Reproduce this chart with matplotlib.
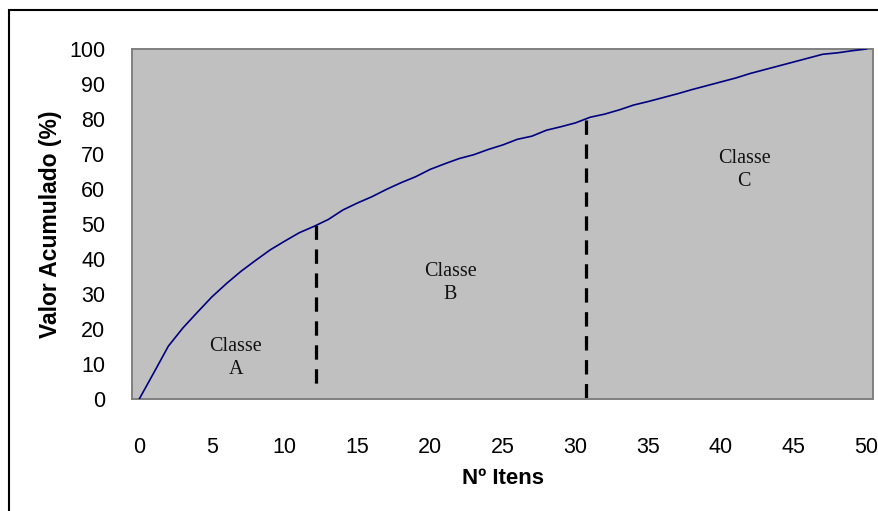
import matplotlib
matplotlib.use("Agg")
import matplotlib.pyplot as plt
from matplotlib.patches import Rectangle

# Data
itens = list(range(0, 51))
valor_acumulado = [0, 7.5, 15.1, 20.3, 24.8, 29.2, 33.0, 36.5, 39.6, 42.6, 45.1,
                   47.5, 49.3, 51.3, 54.0, 56.0, 57.8, 59.9, 61.8, 63.5, 65.6,
                   67.2, 68.7, 69.8, 71.3, 72.6, 74.2, 75.1, 76.8, 77.8, 78.9,
                   80.5, 81.4, 82.6, 84.0, 85.0, 86.1, 87.2, 88.4, 89.5, 90.6,
                   91.7, 93.0, 94.1, 95.2, 96.3, 97.4, 98.5, 98.9, 99.5, 100.0]
limites = [12.15, 30.75]
limites_base = [2.0, -0.4]
limites_topo = [49.8, 79.8]
classes = ["Classe\nA", "Classe\nB", "Classe\nC"]
classes_pos = [(6.65, 11.7), (21.4, 33.1), (41.6, 65.4)]
xticks = list(range(0, 51, 5))
yticks = list(range(0, 101, 10))

fig = plt.figure(figsize=(8.79, 5.11), dpi=100)
ax = fig.add_axes([131.7/879, 1-399/511, (873-131.7)/879, (399-49)/511])
ax.set_facecolor("#C0C0C0")

ax.plot(itens, valor_acumulado, color="#000080", lw=1.2, zorder=3)

for xv, yb, yt in zip(limites, limites_base, limites_topo):
    ax.plot([xv, xv], [yt, yb], color="black", lw=2.3,
            linestyle=(0, (4.5, 3.0)), zorder=2, clip_on=False,
            solid_capstyle="butt", dash_capstyle="butt")

for txt, (px, py) in zip(classes, classes_pos):
    ax.text(px, py, txt, ha="center", va="center", fontsize=14.5,
            family="Liberation Serif", linespacing=1.3, color="#111111")

ax.set_xlim(-0.52, 50.45)
ax.set_ylim(0, 100)
ax.set_xticks(xticks)
ax.set_yticks(yticks)
ax.tick_params(axis="both", length=0, labelsize=15.5)
ax.tick_params(axis="x", pad=27)
ax.tick_params(axis="y", pad=19)
for lab in ax.get_xticklabels() + ax.get_yticklabels():
    lab.set_family("Liberation Sans")

for s in ax.spines.values():
    s.set_color("#808080")
    s.set_linewidth(1.4)

fig.text(503/879, 1-478/511, "Nº Itens", ha="center", va="center",
         fontsize=16, fontweight="bold", family="Liberation Sans")
fig.text(51/879, 1-224/511, "Valor Acumulado (%)", ha="center", va="center",
         rotation=90, fontsize=16.5, fontweight="bold", family="Liberation Sans")

border = Rectangle((9/879, -0.2), 1.5, (1 - 10/511) + 0.2, transform=fig.transFigure,
                   fill=False, edgecolor="black", lw=1.5)
fig.patches.append(border)

fig.savefig("out.png", dpi=100)
